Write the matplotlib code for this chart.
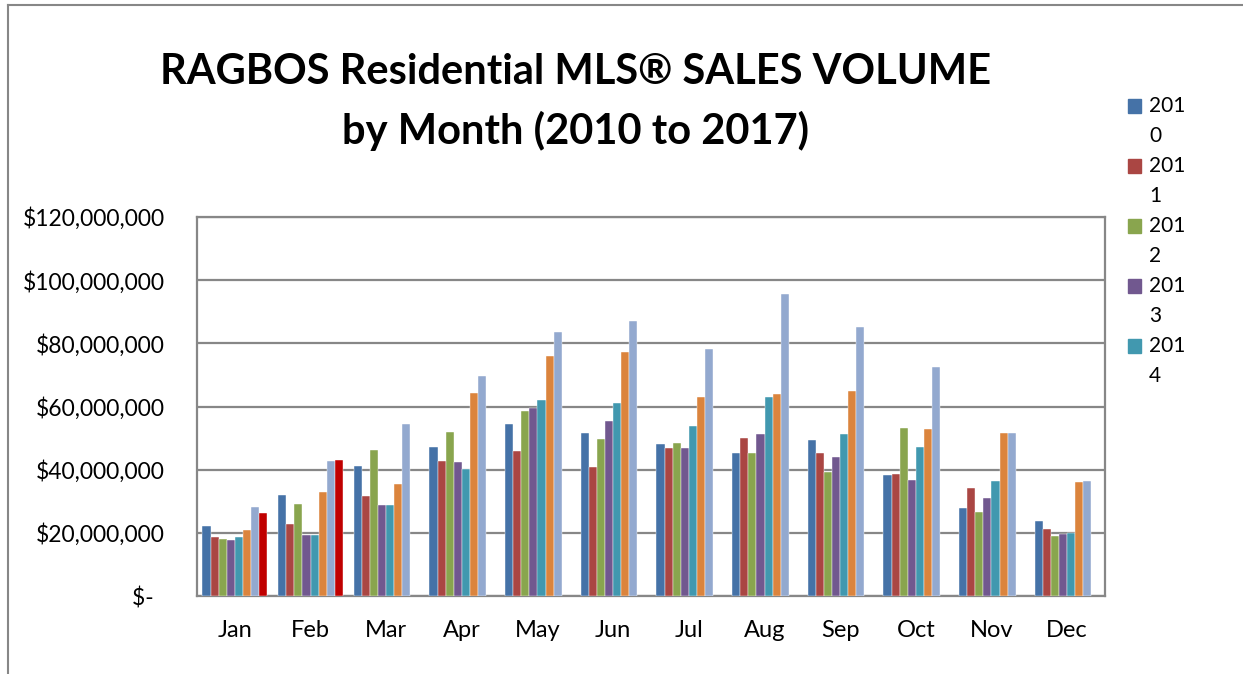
import matplotlib
matplotlib.use("Agg")
import matplotlib.pyplot as plt
import numpy as np
from matplotlib.lines import Line2D
from matplotlib.patches import Rectangle
from matplotlib.ticker import FuncFormatter

plt.rcParams["font.family"] = ["Lato", "DejaVu Sans"]

months = ["Jan", "Feb", "Mar", "Apr", "May", "Jun",
          "Jul", "Aug", "Sep", "Oct", "Nov", "Dec"]
years = ["2010", "2011", "2012", "2013", "2014", "2015", "2016", "2017"]

# sales volume, millions of dollars
v2010 = [22.2, 31.9, 41.3, 47.1, 54.4, 51.5, 48.0, 45.3, 49.3, 38.4, 27.9, 23.7]
v2011 = [18.8, 22.8, 31.6, 42.6, 45.9, 40.7, 47.0, 50.0, 45.2, 38.7, 34.1, 21.2]
v2012 = [17.9, 29.0, 46.3, 51.8, 58.5, 49.7, 48.4, 45.3, 39.4, 53.2, 26.6, 18.9]
v2013 = [17.7, 19.3, 28.9, 42.3, 59.5, 55.4, 46.8, 51.2, 43.9, 36.6, 31.0, 19.6]
v2014 = [18.7, 19.4, 28.9, 40.1, 62.0, 61.0, 53.7, 63.0, 51.2, 47.3, 36.3, 20.0]
v2015 = [20.8, 32.9, 35.6, 64.2, 75.9, 77.3, 63.0, 63.9, 64.8, 52.8, 51.5, 36.0]
v2016 = [28.3, 42.6, 54.5, 69.8, 83.5, 87.2, 78.1, 95.5, 85.1, 72.6, 51.5, 36.3]
v2017 = [26.3, 43.1] + [np.nan] * 10

series = [v2010, v2011, v2012, v2013, v2014, v2015, v2016, v2017]
colors = ["#4572A7", "#AA4643", "#89A54E", "#71588F",
          "#4198AF", "#DB843D", "#93A9CF", "#C00000"]

fig = plt.figure(figsize=(12.43, 6.74), dpi=100)
ax = fig.add_axes([197 / 1243, 1 - 596 / 674, (1105 - 197) / 1243, (596 - 217) / 674])

x = np.arange(len(months))
bw = 0.107
n = len(series)
for i, (vals, c) in enumerate(zip(series, colors)):
    vals = np.array(vals, dtype=float) * 1e6
    ax.bar(x + (i - (n - 1) / 2) * bw, vals, width=bw, color=c,
           edgecolor="white", linewidth=0.3, zorder=3)

ax.set_xlim(-0.5, len(months) - 0.5)
ax.set_ylim(0, 120e6)
ax.set_yticks(np.arange(0, 120e6 + 1, 20e6))
ax.yaxis.set_major_formatter(
    FuncFormatter(lambda v, p: "$-  " if v == 0 else f"${v:,.0f}"))
ax.set_xticks(x)
ax.set_xticklabels(months)
ax.tick_params(axis="both", length=0, colors="black")
ax.tick_params(axis="y", pad=23, labelsize=16.5)
ax.tick_params(axis="x", pad=17, labelsize=17)
ax.grid(axis="y", color="#878787", linewidth=1.6, zorder=0)
for s in ax.spines.values():
    s.set_color("#878787")
    s.set_linewidth(1.6)

fig.text(576 / 1243, 1 - 72 / 674, "RAGBOS Residential MLS\u00ae SALES VOLUME",
         ha="center", va="center", fontsize=30, fontweight="bold")
fig.text(576 / 1243, 1 - 131 / 674, "by Month (2010 to 2017)",
         ha="center", va="center", fontsize=30, fontweight="bold")

# legend (only the first five entries fit, as in the original)
for i in range(5):
    yc = 106 + i * 60
    fig.patches.append(Rectangle((1128 / 1243, 1 - (yc + 7) / 674), 13 / 1243, 14 / 674,
                                 transform=fig.transFigure, color=colors[i]))
    fig.text(1149 / 1243, 1 - yc / 674, years[i][:3], ha="left", va="center", fontsize=15)
    fig.text(1149 / 1243, 1 - (yc + 30) / 674, years[i][3:], ha="left", va="center", fontsize=15)

# outer chart border
fig.lines.append(Line2D([8 / 1243, 8 / 1243], [0, 1 - 5 / 674],
                        transform=fig.transFigure, color="#878787", linewidth=1.5))
fig.lines.append(Line2D([8 / 1243, 1], [1 - 5 / 674, 1 - 5 / 674],
                        transform=fig.transFigure, color="#878787", linewidth=1.5))

fig.savefig("out.png", dpi=100)
